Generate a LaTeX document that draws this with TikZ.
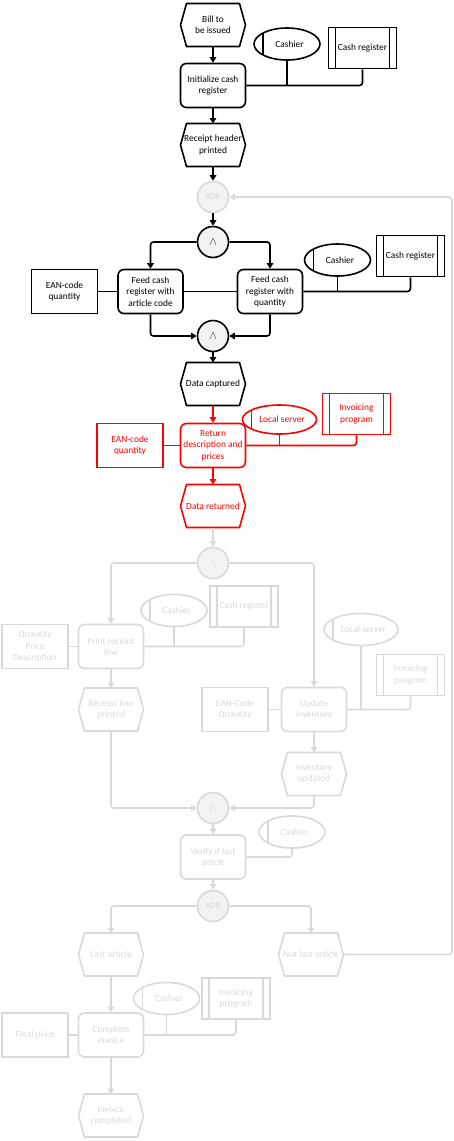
\documentclass[tikz,border=0pt]{standalone}
\usepackage{fontspec}
\setmainfont{Carlito}
\usetikzlibrary{arrows.meta,shapes.geometric}
\definecolor{lg}{HTML}{D9D9D9}
\definecolor{gatefill}{HTML}{F2F2F2}
\definecolor{redc}{HTML}{FF0000}
\definecolor{navy}{HTML}{1F2A44}
\newcommand{\fs}{\fontsize{9.4}{11.3}\selectfont}
\begin{document}
\begin{tikzpicture}[x=1pt,y=-1pt,
  base/.style={line width=1.6pt, font=\fs, align=center, inner sep=1pt},
  fn/.style={base, draw, rounded corners=6pt, minimum width=65pt, minimum height=44pt},
  ev/.style={base, outer sep=0pt, minimum width=65pt, minimum height=43pt},
  info/.style={base, draw, minimum width=66pt, minimum height=44pt},
  org/.style={base, draw, ellipse, minimum width=66pt, minimum height=32pt,
    path picture={\draw[line width=1.6pt] ([xshift=9pt]path picture bounding box.north west) -- ([xshift=9pt]path picture bounding box.south west);}},
  sys/.style={base, draw, minimum width=68pt, minimum height=41pt,
    path picture={\draw[line width=1.6pt] ([xshift=7pt]path picture bounding box.north west) -- ([xshift=7pt]path picture bounding box.south west)
      ([xshift=-7pt]path picture bounding box.north east) -- ([xshift=-7pt]path picture bounding box.south east);}},
  gate/.style={base, draw, circle, minimum size=31pt},
  blk/.style={color=black},
  rd/.style={color=redc},
  gr/.style={color=lg},
  ln/.style={line width=1.6pt, rounded corners=3pt},
  arr/.style={ln, -{Triangle[width=6.5pt,length=5.5pt]}}
]
\useasboundingbox (0,0) rectangle (454,1141);
% ---------- black part ----------
\node[ev,blk] (bill) at (213,25) {Bill to\\be issued};
\node[fn,blk] (init) at (213,85.5) {Initialize cash\\register};
\node[org,blk] (ca1) at (287,44) {\hspace{5pt}Cashier};
\node[sys,blk] (cr1) at (362.5,48) {Cash register};
\node[ev,blk] (rhp) at (213,145) {Receipt header\\printed};
\node[gate,gr,fill=gatefill] (xor1) at (213,197) {\fontsize{8.5}{9}\selectfont XOR};
\node[gate,blk,fill=gatefill,text=navy] (and1) at (213,242) {\large$\wedge$};
\node[fn,blk] (f1) at (150.5,291.5) {Feed cash\\register with\\article code};
\node[fn,blk] (f2) at (270,291.5) {Feed cash\\register with\\quantity};
\node[info,blk] (ean1) at (64.5,291.5) {EAN-code\\quantity};
\node[org,blk] (ca2) at (337.5,260) {\hspace{5pt}Cashier};
\node[sys,blk] (cr2) at (410.5,256) {Cash register};
\node[gate,blk,fill=gatefill,text=navy] (and2) at (213,336) {\large$\wedge$};
\node[ev,blk] (dc) at (213,384) {Data captured};
% ---------- red part ----------
\node[fn,rd] (ret) at (213,445.5) {Return\\description and\\prices};
\node[info,rd] (ean2) at (130,445.5) {EAN-code\\quantity};
\node[org,rd,minimum height=29pt] (ls1) at (279.5,419.5) {\hspace{5pt}Local server};
\node[sys,rd] (inv1) at (356.5,414) {Invoicing\\program};
\node[ev,rd] (dr) at (213,506) {Data returned};
% ---------- grey part ----------
\node[gate,gr,fill=gatefill] (and3) at (213,563) {\large$\wedge$};
\node[fn,gr] (prl) at (111,646.5) {Print receipt\\line};
\node[info,gr] (qpd) at (35,646.5) {Quantity\\Price\\Description};
\node[org,gr] (ca3) at (174,610.5) {\hspace{5pt}Cashier};
\node[sys,gr] (cr3) at (244,606.5) {Cash register};
\node[ev,gr] (rlp) at (111,709.5) {Receipt line\\printed};
\node[org,gr] (ls2) at (361,629.5) {\hspace{5pt}Local server};
\node[sys,gr] (inv2) at (410.5,675) {Invoicing\\program};
\node[info,gr] (eanc) at (235,709.5) {EAN-Code\\Quantity};
\node[fn,gr] (upd) at (314,709.5) {Update\\inventory};
\node[ev,gr] (iu) at (314,774) {Inventory\\updated};
\node[gate,gr,fill=gatefill] (and4) at (213,808) {\large$\wedge$};
\node[org,gr] (ca4) at (292,832) {\hspace{5pt}Cashier};
\node[fn,gr] (ver) at (213,857) {Verify if last\\article};
\node[gate,gr,fill=gatefill] (xor2) at (213,906) {\fontsize{8.5}{9}\selectfont XOR};
\node[ev,gr] (la) at (111,954.5) {Last article};
\node[ev,gr] (nla) at (311,954.5) {Not last article};
\node[org,gr] (ca5) at (166.5,998.5) {\hspace{5pt}Cashier};
\node[sys,gr] (inv3) at (236,998.5) {Invoicing\\program};
\node[info,gr] (fp) at (35,1035) {Final price};
\node[fn,gr] (ci) at (111,1035) {Complete\\invoice};
\node[ev,gr] (ic) at (111,1115.5) {Invoice\\completed};
\coordinate (loopc) at (452,197);
% ---------- hexagon outlines for events ----------
\foreach \n/\c in {bill/blk,rhp/blk,dc/blk,dr/rd,rlp/gr,iu/gr,la/gr,nla/gr,ic/gr}
  \draw[line width=1.6pt,\c] (\n.west) -- ([xshift=6pt]\n.north west) -- ([xshift=-6pt]\n.north east)
    -- (\n.east) -- ([xshift=-6pt]\n.south east) -- ([xshift=6pt]\n.south west) -- cycle;
% ---------- black connectors ----------
\draw[arr,blk] (bill) -- (init);
\draw[arr,blk] (init) -- (rhp);
\draw[arr,blk] (rhp) -- (xor1);
\draw[arr,blk] (xor1) -- (and1);
\draw[arr,blk] (and1.west) -| (f1.north);
\draw[arr,blk] (and1.east) -| (f2.north);
\draw[arr,blk] (f1.south) |- (and2.west);
\draw[arr,blk] (f2.south) |- (and2.east);
\draw[arr,blk] (and2) -- (dc);
\draw[ln,blk] (ean1) -- (f1);
\draw[ln,blk] (f1) -- (f2);
\draw[ln,blk] (init.east) -| (cr1.south);
\draw[ln,blk] (ca1.south) -- (ca1.south |- init.east);
\draw[ln,blk] (f2.east) -| (cr2.south);
\draw[ln,blk] (ca2.south) -- (ca2.south |- f2.east);
% ---------- red connectors ----------
\draw[arr,rd] (dc) -- (ret);
\draw[arr,rd] (ret) -- (dr);
\draw[ln,rd] (ean2) -- (ret);
\draw[ln,rd] (ret.east) -| (inv1.south);
\draw[ln,rd] (ls1.south) -- (ls1.south |- ret.east);
% ---------- grey connectors ----------
\draw[arr,gr] (dr) -- (and3);
\draw[arr,gr] (and3.west) -| (prl.north);
\draw[arr,gr] (and3.east) -| (upd.north);
\draw[ln,gr] (qpd) -- (prl);
\draw[ln,gr] (prl.east) -| (cr3.south);
\draw[ln,gr] (ca3.south) -- (ca3.south |- prl.east);
\draw[arr,gr] (prl) -- (rlp);
\draw[ln,gr] (eanc) -- (upd);
\draw[ln,gr] (upd.east) -| (inv2.south);
\draw[ln,gr] (ls2.south) -- (ls2.south |- upd.east);
\draw[arr,gr] (upd) -- (iu);
\draw[arr,gr] (rlp.south) |- (and4.west);
\draw[arr,gr] (iu.south) |- (and4.east);
\draw[arr,gr] (and4) -- (ver);
\draw[ln,gr] (ver.east) -| (ca4.south);
\draw[arr,gr] (ver) -- (xor2);
\draw[arr,gr] (xor2.west) -| (la.north);
\draw[arr,gr] (xor2.east) -| (nla.north);
\draw[arr,gr] (nla.east) -| (loopc) -- (xor1.east);
\draw[arr,gr] (la) -- (ci);
\draw[ln,gr] (fp) -- (ci);
\draw[ln,gr] (ci.east) -| (inv3.south);
\draw[ln,gr] (ca5.south) -- (ca5.south |- ci.east);
\draw[arr,gr] (ci) -- (ic);
\end{tikzpicture}
\end{document}
